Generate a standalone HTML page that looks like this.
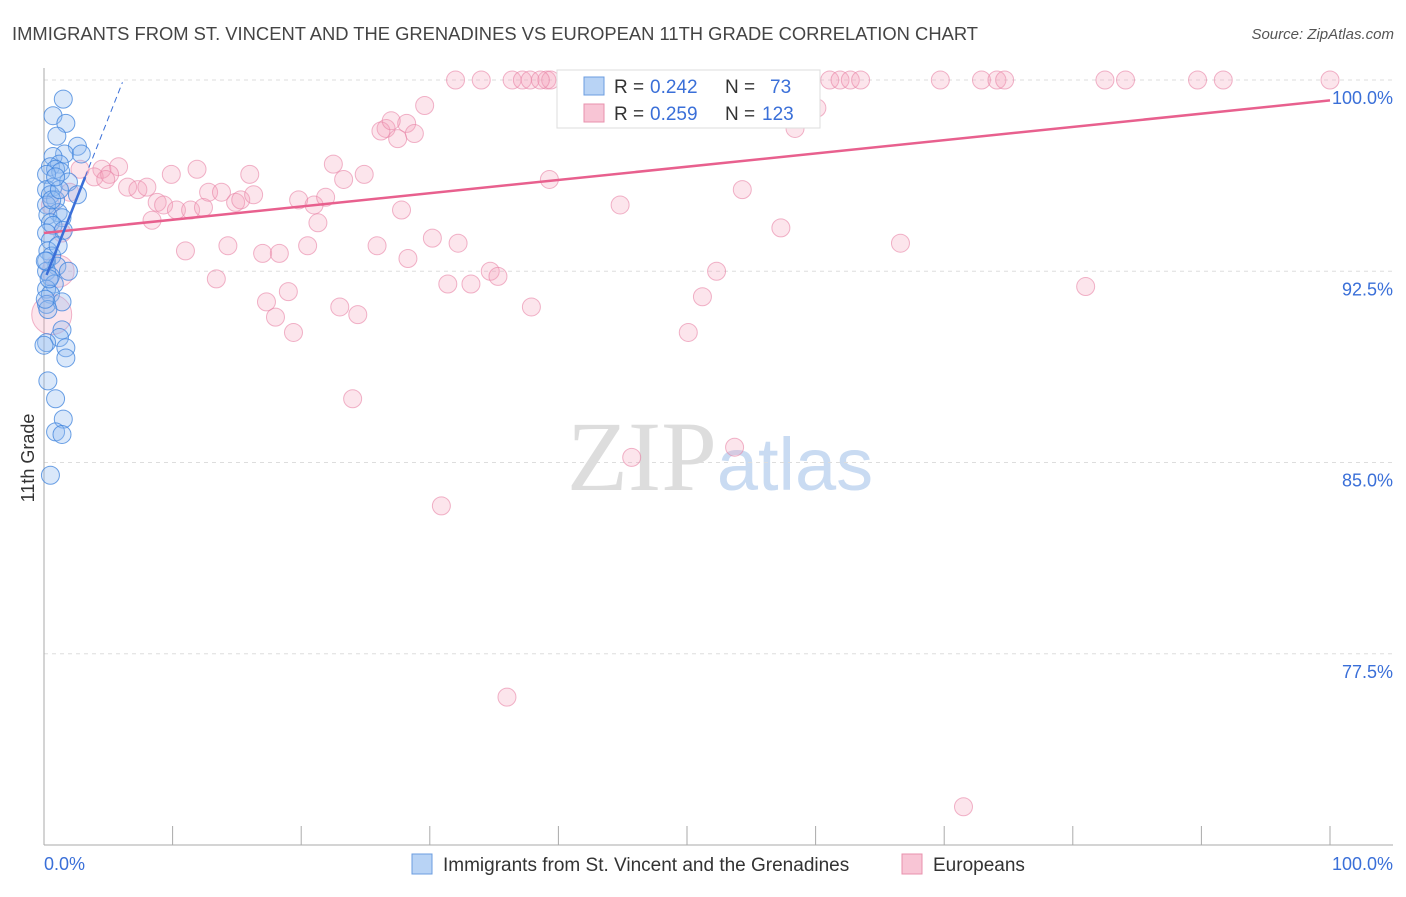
<!DOCTYPE html>
<html><head><meta charset="utf-8"><style>
body{margin:0;background:#fff;font-family:"Liberation Sans",sans-serif;}
svg text{font-family:"Liberation Sans",sans-serif;}
</style></head><body>
<svg id="chart" width="1406" height="892" xmlns="http://www.w3.org/2000/svg">
<text x="12" y="40" font-size="18" fill="#444" textLength="966" lengthAdjust="spacingAndGlyphs">IMMIGRANTS FROM ST. VINCENT AND THE GRENADINES VS EUROPEAN 11TH GRADE CORRELATION CHART</text>
<text x="1394" y="39" font-size="15" fill="#555" text-anchor="end" font-style="italic">Source: ZipAtlas.com</text>
<text x="720" y="490" font-size="100" text-anchor="middle"><tspan fill="#ddd" font-family="Liberation Serif">ZIP</tspan><tspan fill="#c9dbf2" font-size="74">atlas</tspan></text>
<text transform="translate(34,458) rotate(-90)" font-size="18" fill="#333" text-anchor="middle">11th Grade</text>
<g id="grid"></g><g id="pts"></g><g id="trend"></g>
<g>
<rect x="557" y="70" width="263" height="58" fill="#fff" stroke="#ddd"/>
<rect x="584" y="77" width="20" height="18" fill="#b8d3f5" stroke="#6b9de0"/>
<text x="614" y="93" font-size="19" fill="#333">R =</text><text x="650" y="93" font-size="19" fill="#3a6fd8">0.242</text>
<text x="725" y="93" font-size="19" fill="#333">N =</text><text x="770" y="93" font-size="19" fill="#3a6fd8">73</text>
<rect x="584" y="104" width="20" height="18" fill="#f8c5d5" stroke="#e891ad"/>
<text x="614" y="120" font-size="19" fill="#333">R =</text><text x="650" y="120" font-size="19" fill="#3a6fd8">0.259</text>
<text x="725" y="120" font-size="19" fill="#333">N =</text><text x="762" y="120" font-size="19" fill="#3a6fd8">123</text>
</g>
<g>
<rect x="412" y="854" width="20" height="20" fill="#b8d3f5" stroke="#6b9de0"/>
<text x="443" y="871" font-size="19" fill="#333">Immigrants from St. Vincent and the Grenadines</text>
<rect x="902" y="854" width="20" height="20" fill="#f8c5d5" stroke="#e891ad"/>
<text x="933" y="871" font-size="19" fill="#333">Europeans</text>
</g>
</svg>
<script>
const yTicks=[100,92.5,85,77.5];
const yTickLabels=["100.0%","92.5%","85.0%","77.5%"];
const xTickLabels=["0.0%","100.0%"];
const blueX=[1.5,0.7,1.7,1.0,2.6,1.6,2.9,0.7,1.2,0.5,0.9,1.3,0.2,1.9,0.7,0.2,0.5,2.6,0.9,0.2,1.1,0.3,1.4,0.5,0.7,1.5,0.2,0.5,0.3,0.6,0.2,1.0,1.9,0.2,0.5,0.8,0.2,0.5,0.2,1.4,0.3,1.4,1.2,0.2,1.7,1.7,0.3,0.9,1.5,0.9,1.4,0.5,0.1,0.1,0.4,1.1,0.6,0.0,1.2,0.9];
const blueY=[99.25,98.6,98.3,97.8,97.4,97.1,97.1,97.0,96.7,96.6,96.5,96.4,96.3,96.0,95.8,95.7,95.5,95.5,95.3,95.1,94.8,94.7,94.6,94.4,94.3,94.1,94.0,93.7,93.3,93.1,92.9,92.7,92.5,92.5,92.3,92.0,91.8,91.6,91.2,91.3,91.0,90.2,89.9,89.7,89.5,89.1,88.2,87.5,86.7,86.2,86.1,84.5,91.4,92.9,92.2,93.5,95.3,89.6,95.7,96.2];
const pinkX=[32.0,34.0,36.4,37.2,37.8,39.1,39.4,41.5,43.2,44.1,45.6,48.2,50.8,52.7,55.5,58.0,61.1,61.9,62.7,63.5,69.7,72.9,74.1,74.7,82.5,84.1,89.7,91.7,100,38.6,41.3,
29.6,28.2,26.6,26.2,27.0,28.8,27.5,58.4,60.1,22.5,24.9,23.3,5.8,4.5,3.9,5.1,4.8,11.9,16.0,9.9,6.5,7.3,8.0,8.8,9.3,8.4,10.3,11.4,12.4,12.8,13.8,14.9,15.3,16.3,19.8,21.0,21.9,21.3,27.8,39.3,44.8,54.3,57.3,66.6,14.3,11.0,17.0,18.3,20.5,25.9,30.2,32.2,28.3,34.7,35.3,31.4,33.2,13.4,19.0,17.3,18.0,19.4,23.0,24.4,37.9,52.3,51.2,50.1,81.0,24.0,53.7,45.7,30.9,36.0,71.5,2.0,2.8,0.5,1.4,1.1,0.6];
const pinkY=[100,100,100,100,100,100,100,100,100,100,100,100,100,100,100,100,100,100,100,100,100,100,100,100,100,100,100,100,100,100,100,
99.0,98.3,98.1,98.0,98.4,97.9,97.7,98.1,98.9,96.7,96.3,96.1,96.6,96.5,96.2,96.3,96.1,96.5,96.3,96.3,95.8,95.7,95.8,95.2,95.1,94.5,94.9,94.9,95.0,95.6,95.6,95.2,95.3,95.5,95.3,95.1,95.4,94.4,94.9,96.1,95.1,95.7,94.2,93.6,93.5,93.3,93.2,93.2,93.5,93.5,93.8,93.6,93.0,92.5,92.3,92.0,92.0,92.2,91.7,91.3,90.7,90.1,91.1,90.8,91.1,92.5,91.5,90.1,91.9,87.5,85.6,85.2,83.3,75.8,71.5,95.6,96.5,95.1,94.0,92.5,90.8];
const pinkBig=[0,0,0,0,0,0,0,0,0,0,0,0,0,0,0,0,0,0,0,0,0,0,0,0,0,0,0,0,0,0,0,0,0,0,0,0,0,0,0,0,0,0,0,0,0,0,0,0,0,0,0,0,0,0,0,0,0,0,0,0,0,0,0,0,0,0,0,0,0,0,0,0,0,0,0,0,0,0,0,0,0,0,0,0,0,0,0,0,0,0,0,0,0,0,0,0,0,0,0,0,0,0,0,0,0,0,0,0,0,0,16,20,15];
const pinkTrend=[94.0,99.2];
const blueTrend=[92.1,1.28];
const X=v=>44+v*12.86, Y=v=>80+(100-v)*25.5;
const NS="http://www.w3.org/2000/svg";
function mk(t,a,p){const e=document.createElementNS(NS,t);for(const k in a)e.setAttribute(k,a[k]);p.appendChild(e);return e;}
const grid=document.getElementById('grid'),pts=document.getElementById('pts'),tr=document.getElementById('trend');
yTicks.forEach((v,i)=>{
 const l=mk('line',{x1:44,x2:1393,y1:Y(v),y2:Y(v),stroke:'#ddd','stroke-dasharray':'4,4'},grid);
 
 
 const t=mk('text',{x:1393,y:Y(v)+24,'font-size':18,fill:'#3a6fd8','text-anchor':'end'},grid);t.textContent=yTickLabels[i];
 
 
});
const ax=mk('line',{x1:44,x2:44,y1:68,y2:845,stroke:'#aaa'},grid);


const bx=mk('line',{x1:44,x2:1393,y1:845,y2:845,stroke:'#aaa'},grid);


for(let i=0;i<=10;i++){const t=mk('line',{x1:X(i*10),x2:X(i*10),y1:826,y2:845,stroke:'#aaa'},grid);
 
 }
[[0,'start',44],[1,'end',1393]].forEach(([i,a,x])=>{const t=mk('text',{x:x,y:870,'font-size':18,fill:'#3a6fd8','text-anchor':a},grid);t.textContent=xTickLabels[i];
 
 });
pinkX.forEach((v,i)=>{const c=mk('circle',{cx:X(v),cy:Y(pinkY[i]),r:pinkBig[i]||9,fill:'rgba(244,160,188,0.28)',stroke:'rgba(232,130,165,0.6)','stroke-width':1},pts);
 
 });
blueX.forEach((v,i)=>{const c=mk('circle',{cx:X(v),cy:Y(blueY[i]),r:9,fill:'rgba(150,190,240,0.35)',stroke:'rgba(60,130,220,0.75)','stroke-width':1},pts);
 
 });
const pl=mk('line',{x1:X(0),y1:Y(pinkTrend[0]),x2:X(100),y2:Y(pinkTrend[1]),stroke:'#e8608e','stroke-width':2.5},tr);


const bs=mk('line',{x1:X(0.2),y1:Y(blueTrend[0]+blueTrend[1]*0.2),x2:X(3.2),y2:Y(blueTrend[0]+blueTrend[1]*3.2),stroke:'#3a6fd8','stroke-width':2.5},tr);


const bd=mk('line',{x1:X(3.2),y1:Y(blueTrend[0]+blueTrend[1]*3.2),x2:X(6.1),y2:Y(blueTrend[0]+blueTrend[1]*6.1),stroke:'#3a6fd8','stroke-width':1,'stroke-dasharray':'6,4'},tr);


</script>
</body></html>
